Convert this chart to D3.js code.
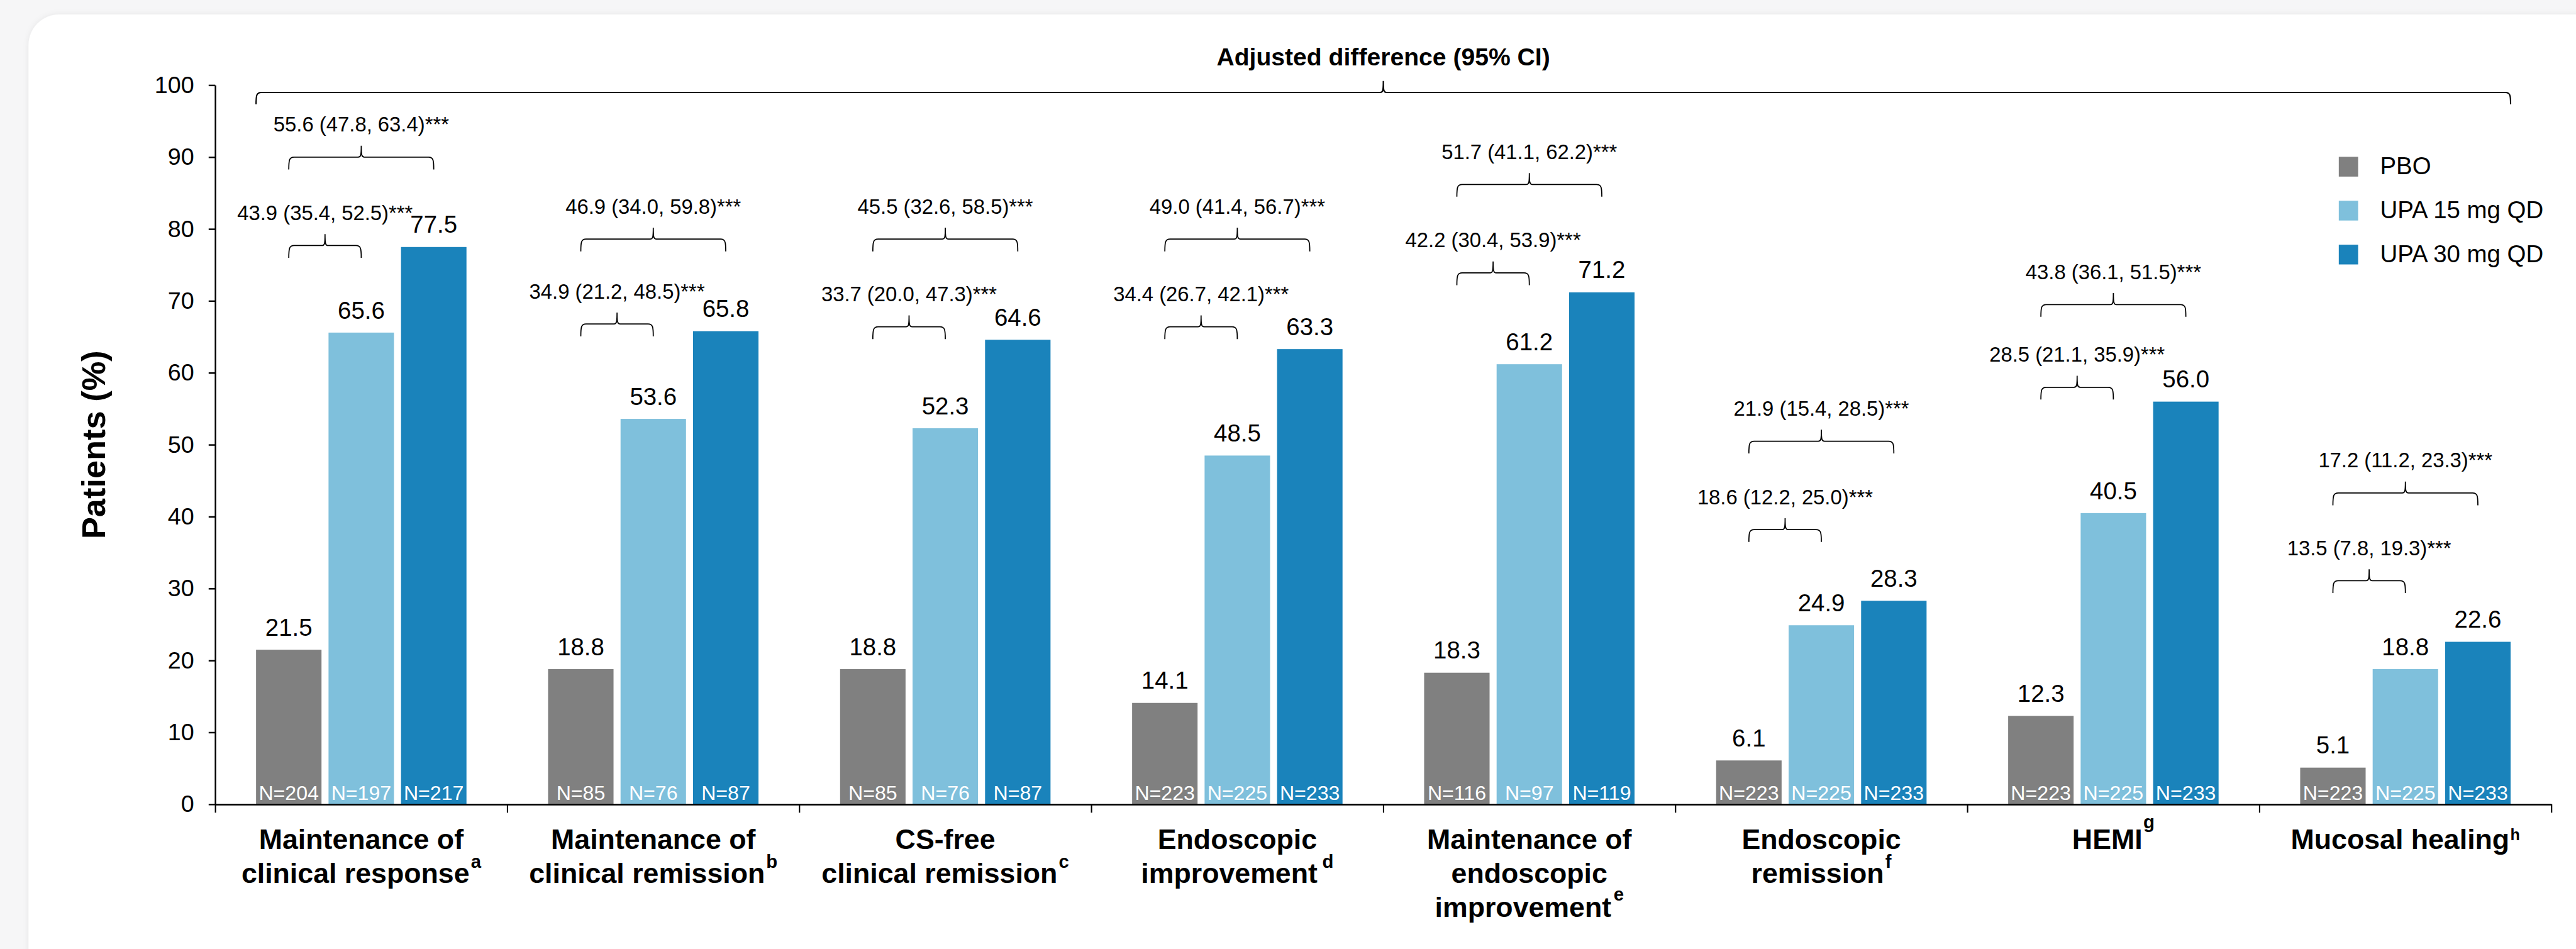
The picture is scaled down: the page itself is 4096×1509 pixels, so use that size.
<!DOCTYPE html>
<html>
<head>
<meta charset="utf-8">
<script src="https://cdn.jsdelivr.net/npm/d3@7"></script>
<style>
  html, body { margin: 0; padding: 0; background: #f6f6f7; overflow: hidden; }
  svg { display: block; }
</style>
</head>
<body>
<svg id="chart" width="4096" height="1509"></svg>
<script>
// ---- Data ----
const categories = [
  ["Maintenance of", "clinical response"],
  ["Maintenance of", "clinical remission"],
  ["CS-free", "clinical remission"],
  ["Endoscopic", "improvement"],
  ["Maintenance of", "endoscopic", "improvement"],
  ["Endoscopic", "remission"],
  ["HEMI"],
  ["Mucosal healing"]
];
const footnotes = ["a", "b", "c", "d", "e", "f", "g", "h"];

const seriesNames = ["PBO", "UPA 15 mg QD", "UPA 30 mg QD"];
const pbo   = [21.5, 18.8, 18.8, 14.1, 18.3, 6.1, 12.3, 5.1];
const upa15 = [65.6, 53.6, 52.3, 48.5, 61.2, 24.9, 40.5, 18.8];
const upa30 = [77.5, 65.8, 64.6, 63.3, 71.2, 28.3, 56.0, 22.6];

const nPbo   = [204, 85, 85, 223, 116, 223, 223, 223];
const nUpa15 = [197, 76, 76, 225, 97, 225, 225, 225];
const nUpa30 = [217, 87, 87, 233, 119, 233, 233, 233];

// Adjusted difference vs PBO (95% CI)
const diff15 = ["43.9 (35.4, 52.5)***", "34.9 (21.2, 48.5)***", "33.7 (20.0, 47.3)***", "34.4 (26.7, 42.1)***",
                "42.2 (30.4, 53.9)***", "18.6 (12.2, 25.0)***", "28.5 (21.1, 35.9)***", "13.5 (7.8, 19.3)***"];
const diff30 = ["55.6 (47.8, 63.4)***", "46.9 (34.0, 59.8)***", "45.5 (32.6, 58.5)***", "49.0 (41.4, 56.7)***",
                "51.7 (41.1, 62.2)***", "21.9 (15.4, 28.5)***", "43.8 (36.1, 51.5)***", "17.2 (11.2, 23.3)***"];

const yTicks = [0, 10, 20, 30, 40, 50, 60, 70, 80, 90, 100];
const yTitle = "Patients (%)";
const topTitle = "Adjusted difference (95% CI)";

// ---- Layout (drawn in 5864 x 2160 units, then scaled to the window) ----
const S = 4096 / 5864;
const FONT = "'Liberation Sans', Arial, Helvetica, sans-serif";
const colors = ["#808080", "#7fc0dc", "#1a83bb"];
const X0 = 490, X1 = 5808, Y0 = 1831, Y100 = 194;
// heights (in % units) at which the comparison braces sit
const braceLevel15 = [77.7, 66.8, 66.4, 66.4, 73.9, 38.2, 58.0, 31.1];
const braceLevel30 = [90.0, 78.6, 78.6, 78.6, 86.2, 50.5, 69.5, 43.3];
const outerBraceLevel = 99.0;
// superscript raise / size / gap per category label
const supRaise = [35, 35, 35, 35, 37, 35, 48, 20];
const supSize  = [42, 42, 42, 42, 42, 42, 42, 36];
const supGap   = [3, 3, 3, 11, 5, 3, 2, 2];

const svg = d3.select("#chart");
const defs = svg.append("defs");
const f = defs.append("filter").attr("id", "cardShadow")
  .attr("x", "-5%").attr("y", "-5%").attr("width", "110%").attr("height", "110%");
f.append("feDropShadow").attr("dx", 0).attr("dy", 0).attr("stdDeviation", 7)
  .attr("flood-color", "#000").attr("flood-opacity", 0.07);

const root = svg.append("g").attr("transform", `scale(${S})`);

// card background
root.append("rect")
  .attr("x", 65).attr("y", 33).attr("width", 5950).attr("height", 2200).attr("rx", 70)
  .attr("fill", "#ffffff").attr("filter", "url(#cardShadow)");

// ---- Scales ----
const y = d3.scaleLinear().domain([0, 100]).range([Y0, Y100]);
const x0 = d3.scaleBand().domain(d3.range(categories.length)).range([X0, X1]).padding(0);
const x1 = d3.scaleBand().domain(seriesNames).range([-239.5, 239.5]).paddingInner(16 / 165).paddingOuter(0);
const color = d3.scaleOrdinal().domain(seriesNames).range(colors);

const seriesValues = [pbo, upa15, upa30];
const seriesN = [nPbo, nUpa15, nUpa30];
const barCenter = (i, s) => x0(i) + x0.bandwidth() / 2 + x1(s) + x1.bandwidth() / 2;

const rows = [];
categories.forEach((c, i) => {
  seriesNames.forEach((s, k) => {
    rows.push({ i, s, v: seriesValues[k][i], n: seriesN[k][i] });
  });
});

// ---- Bars ----
const bars = root.append("g");
bars.selectAll("rect").data(rows).join("rect")
  .attr("x", d => x0(d.i) + x0.bandwidth() / 2 + x1(d.s))
  .attr("width", x1.bandwidth())
  .attr("y", d => y(d.v))
  .attr("height", d => y(0) - y(d.v))
  .attr("fill", d => color(d.s));

// value labels above bars
bars.selectAll("text.val").data(rows).join("text")
  .attr("class", "val")
  .attr("x", d => barCenter(d.i, d.s))
  .attr("y", d => y(d.v) - 32)
  .attr("text-anchor", "middle")
  .attr("font-family", FONT).attr("font-size", 55).attr("fill", "#000")
  .text(d => d.v.toFixed(1));

// sample sizes inside bars
bars.selectAll("text.n").data(rows).join("text")
  .attr("class", "n")
  .attr("x", d => barCenter(d.i, d.s))
  .attr("y", Y0 - 10)
  .attr("text-anchor", "middle")
  .attr("font-family", FONT).attr("font-size", 46).attr("fill", "#ffffff")
  .text(d => "N=" + d.n);

// ---- Axes ----
const yAxis = root.append("g").attr("transform", `translate(${X0},0)`)
  .call(d3.axisLeft(y).tickValues(yTicks).tickSize(15).tickPadding(33).tickSizeOuter(0));
yAxis.attr("font-family", FONT).attr("font-size", 54);
yAxis.selectAll("path, line").attr("stroke", "#000").attr("stroke-width", 3.5);
yAxis.selectAll("text").attr("fill", "#000");

const xb = d3.scaleLinear().domain([0, categories.length]).range([X0, X1]);
const xAxis = root.append("g").attr("transform", `translate(0,${Y0})`)
  .call(d3.axisBottom(xb).tickValues(d3.range(categories.length + 1)).tickSize(19).tickSizeOuter(0).tickFormat(""));
xAxis.select("path.domain").attr("stroke", "#000").attr("stroke-width", 4);
xAxis.selectAll("line").attr("stroke", "#000").attr("stroke-width", 3);

// y-axis title
root.append("text")
  .attr("transform", `translate(239,${(Y0 + Y100) / 2}) rotate(-90)`)
  .attr("text-anchor", "middle")
  .attr("font-family", FONT).attr("font-size", 75).attr("font-weight", "bold").attr("fill", "#000")
  .text(yTitle);

// category labels with footnote superscripts
categories.forEach((lines, i) => {
  const cx = x0(i) + x0.bandwidth() / 2;
  lines.forEach((line, j) => {
    const t = root.append("text")
      .attr("x", cx).attr("y", 1933 + 77 * j)
      .attr("text-anchor", "middle")
      .attr("font-family", FONT).attr("font-size", 64).attr("font-weight", "bold").attr("fill", "#000");
    t.append("tspan").text(line);
    if (j === lines.length - 1) {
      t.append("tspan")
        .attr("dx", supGap[i]).attr("dy", -supRaise[i])
        .attr("font-size", supSize[i])
        .text(footnotes[i]);
    }
  });
});

// ---- Comparison braces ----
function bracePath(xa, xb2, Y, leg, peak) {
  const xm = (xa + xb2) / 2;
  return `M${xa},${Y + leg} C${xa},${Y + 7} ${xa + 1},${Y} ${xa + 12},${Y}` +
         ` L${xm - 7},${Y} C${xm - 1},${Y} ${xm},${Y - 4} ${xm},${Y - peak}` +
         ` C${xm},${Y - 4} ${xm + 1},${Y} ${xm + 7},${Y}` +
         ` L${xb2 - 12},${Y} C${xb2 - 1},${Y} ${xb2},${Y + 7} ${xb2},${Y + leg}`;
}

const braces = [];
categories.forEach((c, i) => {
  braces.push({ xa: barCenter(i, seriesNames[0]), xb: barCenter(i, seriesNames[1]), level: braceLevel15[i], label: diff15[i] });
  braces.push({ xa: barCenter(i, seriesNames[0]), xb: barCenter(i, seriesNames[2]), level: braceLevel30[i], label: diff30[i] });
});

const bg = root.append("g");
bg.selectAll("path").data(braces).join("path")
  .attr("d", d => bracePath(d.xa, d.xb, y(d.level), 28, 26))
  .attr("fill", "none").attr("stroke", "#000").attr("stroke-width", 2.5);
bg.selectAll("text").data(braces).join("text")
  .attr("x", d => (d.xa + d.xb) / 2)
  .attr("y", d => y(d.level) - 58)
  .attr("text-anchor", "middle")
  .attr("font-family", FONT).attr("font-size", 47).attr("fill", "#000")
  .text(d => d.label);

// outer brace spanning all endpoints
const ox1 = x0(0) + x0.bandwidth() / 2 + x1(seriesNames[0]);
const lastI = categories.length - 1;
const ox2 = x0(lastI) + x0.bandwidth() / 2 + x1(seriesNames[2]) + x1.bandwidth();
root.append("path")
  .attr("d", bracePath(ox1, ox2, y(outerBraceLevel), 27, 26))
  .attr("fill", "none").attr("stroke", "#000").attr("stroke-width", 3);
root.append("text")
  .attr("x", (ox1 + ox2) / 2).attr("y", y(outerBraceLevel) - 62)
  .attr("text-anchor", "middle")
  .attr("font-family", FONT).attr("font-size", 56).attr("font-weight", "bold").attr("fill", "#000")
  .text(topTitle);

// ---- Legend ----
const legend = root.append("g").attr("transform", "translate(5324,357)");
const li = legend.selectAll("g").data(seriesNames).join("g")
  .attr("transform", (d, k) => `translate(0,${k * 100})`);
li.append("rect").attr("width", 44).attr("height", 45).attr("fill", d => color(d));
li.append("text")
  .attr("x", 94).attr("y", 40)
  .attr("font-family", FONT).attr("font-size", 55).attr("fill", "#000")
  .text(d => d);
</script>
</body>
</html>
